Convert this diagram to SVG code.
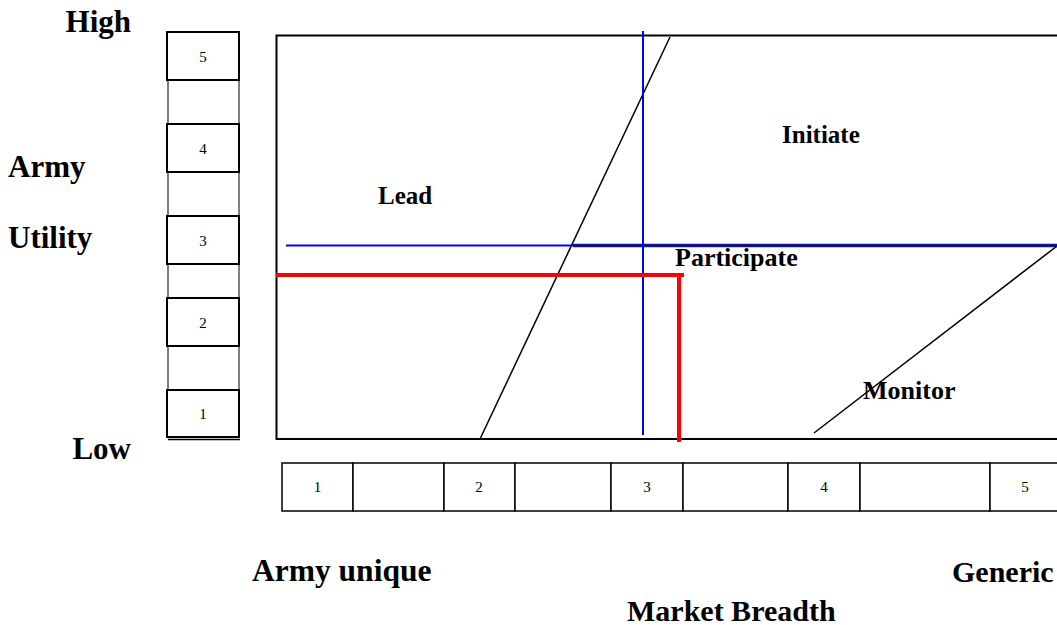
<svg xmlns="http://www.w3.org/2000/svg" width="1057" height="625" viewBox="0 0 1057 625">
<style>
.lbl{font-family:"Liberation Serif","Times New Roman",serif;font-weight:bold;fill:#000}
.num{font-family:"Liberation Serif","Times New Roman",serif;font-size:15px;fill:#000;text-anchor:middle}
.box{fill:#fff;stroke:#000;stroke-width:2}
.gap{fill:#fff;stroke:#000;stroke-width:1}
.cell{fill:#fff;stroke:#000;stroke-width:1.5}
</style>
<rect width="1057" height="625" fill="#fff"/>
<g id="utility-scale">
<rect class="gap" x="168" y="80" width="71" height="44"/>
<rect class="gap" x="168" y="172" width="71" height="44"/>
<rect class="gap" x="168" y="264" width="71" height="34"/>
<rect class="gap" x="168" y="346" width="71" height="44"/>
<rect class="box" x="167" y="32" width="72" height="48"/><text class="num" x="203" y="62">5</text>
<rect class="box" x="167" y="124" width="72" height="48"/><text class="num" x="203" y="154">4</text>
<rect class="box" x="167" y="216" width="72" height="48"/><text class="num" x="203" y="246">3</text>
<rect class="box" x="167" y="298" width="72" height="48"/><text class="num" x="203" y="328">2</text>
<rect class="box" x="167" y="390" width="72" height="47"/><text class="num" x="203" y="419">1</text>
<line x1="168" y1="439.5" x2="240" y2="439.5" stroke="#000" stroke-width="1.5"/>
</g>
<g id="breadth-scale">
<rect class="cell" x="282" y="463" width="71" height="48"/><text class="num" x="317.5" y="492">1</text>
<rect class="cell" x="353" y="463" width="91" height="48"/>
<rect class="cell" x="444" y="463" width="71" height="48"/><text class="num" x="479" y="492">2</text>
<rect class="cell" x="515" y="463" width="96" height="48"/>
<rect class="cell" x="611" y="463" width="72" height="48"/><text class="num" x="647" y="492">3</text>
<rect class="cell" x="683" y="463" width="105" height="48"/>
<rect class="cell" x="788" y="463" width="72" height="48"/><text class="num" x="824" y="492">4</text>
<rect class="cell" x="860" y="463" width="130" height="48"/>
<rect class="cell" x="990" y="463" width="72" height="48"/><text class="num" x="1025" y="492">5</text>
</g>
<g id="chart">
<rect x="276.5" y="35.5" width="800" height="403.5" fill="none" stroke="#000" stroke-width="2"/>
</g>
<g id="connectors">
<line x1="670" y1="37" x2="480" y2="439" stroke="#000" stroke-width="1.5"/>
<line x1="1057" y1="246" x2="814" y2="433" stroke="#000" stroke-width="1.5"/>
<line x1="286" y1="245.5" x2="573" y2="245.5" stroke="#0000ff" stroke-width="2"/>
<line x1="573" y1="245.5" x2="1057" y2="245.5" stroke="#222" stroke-width="3.5"/>
<line x1="573" y1="245.5" x2="1057" y2="245.5" stroke="#0000ee" stroke-width="2"/>
<line x1="643" y1="31" x2="643" y2="435" stroke="#0000ff" stroke-width="2"/>
<polyline points="276,275 684,275" fill="none" stroke="#ff0000" stroke-width="4"/>
<line x1="679" y1="273" x2="679" y2="442" stroke="#ff0000" stroke-width="4"/>
</g>
<g id="labels">
<text class="lbl" x="131" y="32" font-size="31" text-anchor="end">High</text>
<text class="lbl" x="8" y="177" font-size="31">Army</text>
<text class="lbl" x="8" y="248" font-size="31">Utility</text>
<text class="lbl" x="131" y="459" font-size="31" text-anchor="end">Low</text>
<text class="lbl" x="252" y="581" font-size="31.5">Army unique</text>
<text class="lbl" x="952" y="582" font-size="30">Generic</text>
<text class="lbl" x="627" y="621" font-size="30">Market Breadth</text>
<text class="lbl" x="378" y="204" font-size="25">Lead</text>
<text class="lbl" x="782" y="143" font-size="25">Initiate</text>
<text class="lbl" x="675" y="266" font-size="26">Participate</text>
<text class="lbl" x="863" y="399" font-size="26">Monitor</text>
</g>
</svg>
